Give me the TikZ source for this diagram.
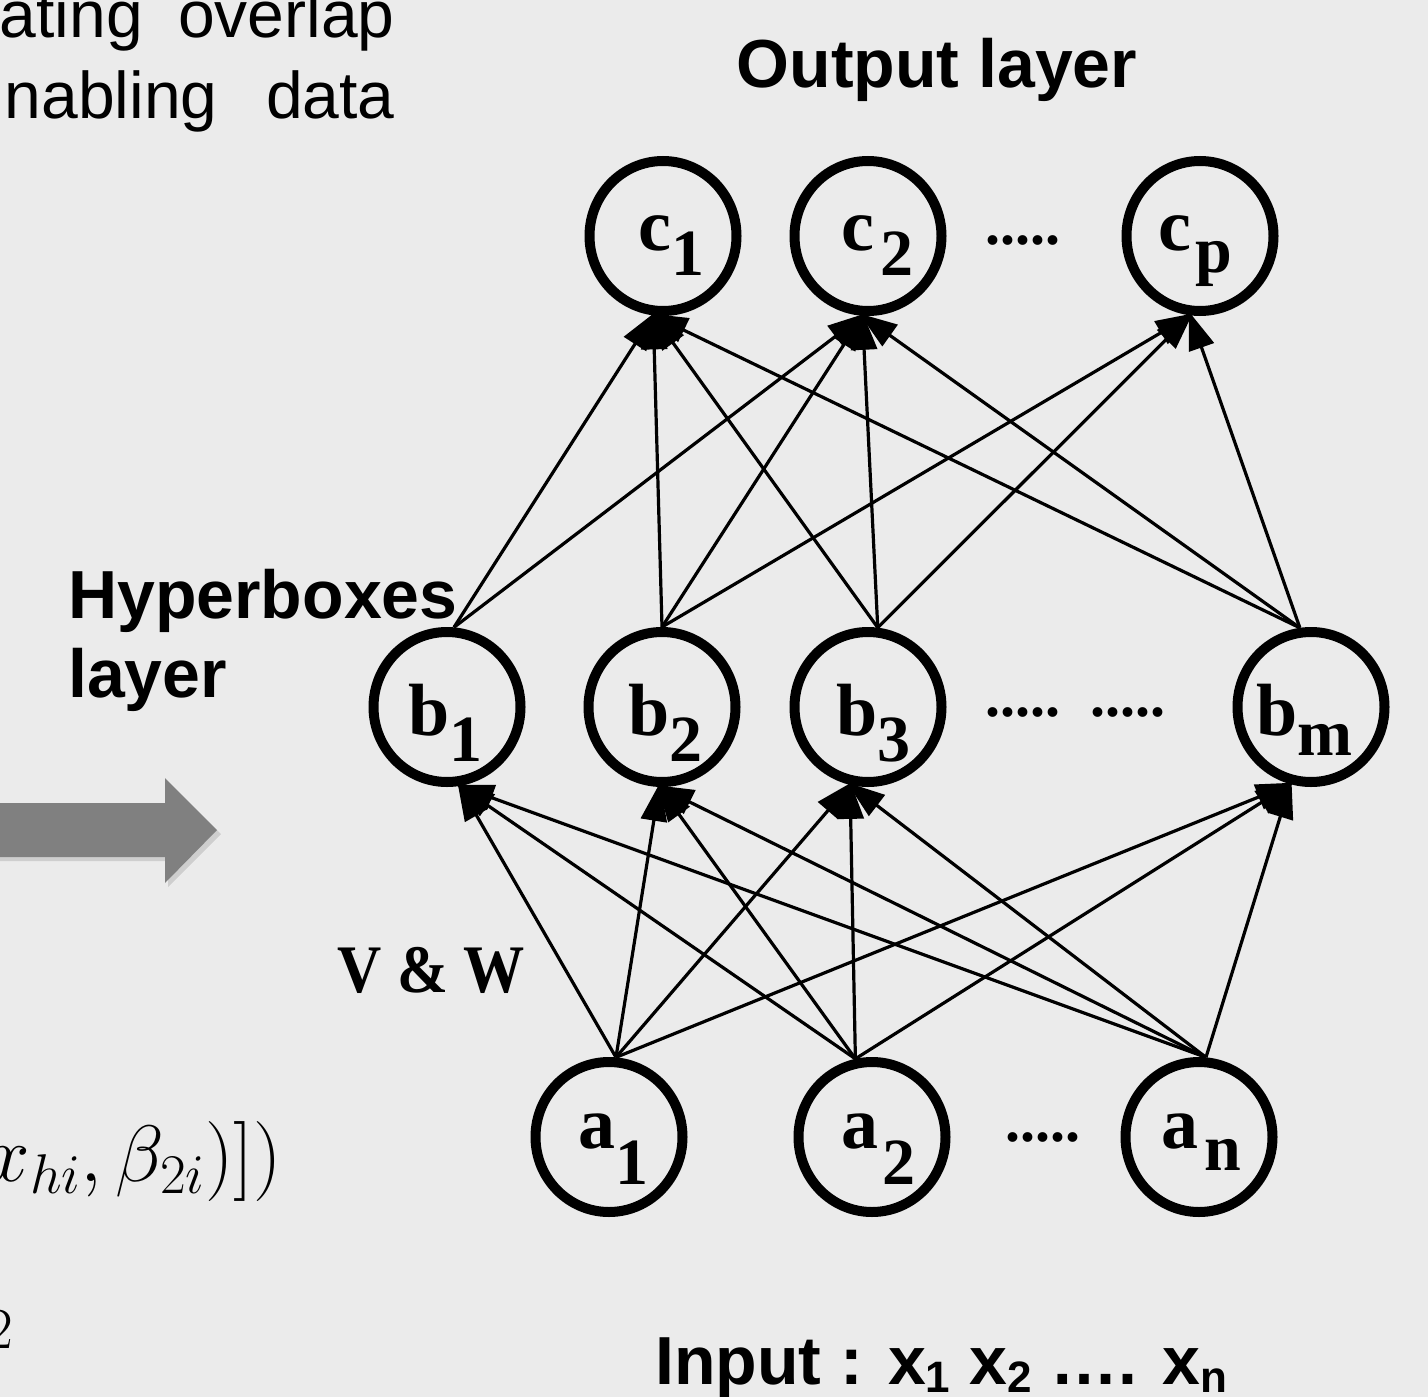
\RequirePackage{fix-cm}
\documentclass[tikz,border=0pt]{standalone}
\usepackage{fontspec}
\setmainfont{Liberation Serif}
\newfontfamily\arialf{Liberation Sans}
\usetikzlibrary{shapes.geometric,arrows.meta}
\definecolor{bgc}{RGB}{235,235,235}
\definecolor{arrowgray}{RGB}{128,128,128}
\newcommand\nsub[2]{\raisebox{-#1pt}{\fontsize{66}{66}\selectfont #2}}
\newcommand\ssub[1]{\raisebox{-8pt}{\fontsize{44}{44}\selectfont #1}}
\begin{document}
\begin{tikzpicture}[x=1pt,y=-1pt,
  neuron/.style={ellipse,draw=black,line width=10pt,minimum width=147pt,minimum height=150pt,inner sep=0pt},
  lbl/.style={anchor=base west,inner sep=0pt,font=\fontsize{74}{74}\selectfont\bfseries},
  dotsty/.style={anchor=base west,inner sep=0pt,font=\fontsize{60}{60}\selectfont\bfseries},
  sanstxt/.style={inner sep=0pt,font=\arialf\fontsize{66}{66}\selectfont},
  boldsans/.style={inner sep=0pt,font=\arialf\bfseries\fontsize{68}{68}\selectfont},
  conn/.style={line width=3.2pt,-{Triangle[length=38pt,width=26pt]},shorten >=-4pt}
]
\fill[bgc] (0,0) rectangle (1428,1397);
\useasboundingbox (0,0) rectangle (1428,1397);

% left slide fragments
\node[sanstxt,anchor=base east] (t1) at (395,38) {\hbox to 395pt{ating\hfil overlap}};
\node[sanstxt,anchor=base east] (t2) at (395,118) {\hbox to 390pt{nabling\hfil data}};
\fill[black,opacity=0.12] (-10,807) -- (168,807) -- (168,782) -- (221,834) -- (168,887) -- (168,861) -- (-10,861) -- cycle;
\fill[arrowgray] (-10,803) -- (165,803) -- (165,778) -- (217,830) -- (165,883) -- (165,857) -- (-10,857) -- cycle;
\node[anchor=base east,inner sep=0pt,font=\fontsize{80}{80}\selectfont] (frm) at (282,1181) {$x_{hi},\beta_{2i}\big)\big])$};
\node[anchor=base east,inner sep=0pt,font=\fontsize{58}{58}\selectfont] (two) at (13,1348) {$2$};

% headings
\node[boldsans,anchor=base] (out) at (937,88) {Output layer};
\node[boldsans,anchor=base west] (hyp1) at (68,618) {Hyperboxes};
\node[boldsans,anchor=base west] (hyp2) at (68,697) {layer};
\node[boldsans,anchor=base west] (inp) at (655,1384) {Input : x\ssub{1} x\ssub{2} …. x\ssub{n}};
\node[anchor=center,inner sep=0pt,font=\fontsize{68}{68}\selectfont\bfseries] (vw) at (431,970) {\scalebox{0.9}[1]{V \& W}};

% neurons
\node[neuron] (c1) at (663,236) {};
\node[neuron] (c2) at (868,236) {};
\node[neuron] (cp) at (1200,236) {};
\node[neuron] (b1) at (447,707) {};
\node[neuron] (b2) at (662,707) {};
\node[neuron] (b3) at (868,707) {};
\node[neuron] (bm) at (1311,707) {};
\node[neuron] (a1) at (609,1137) {};
\node[neuron] (a2) at (872,1137) {};
\node[neuron] (an) at (1199,1137) {};

% labels
\node[lbl] (lc1) at (638,250) {c\nsub{25}{1}};
\node[lbl] (lc2) at (841,250) {c\kern6pt\nsub{25}{2}};
\node[lbl] (lcp) at (1158,250) {c\kern4pt\nsub{22}{p}};
\node[lbl] (lb1) at (408,735) {b\nsub{26}{1}};
\node[lbl] (lb2) at (628,735) {b\nsub{26}{2}};
\node[lbl] (lb3) at (836,735) {b\nsub{26}{3}};
\node[lbl] (lbm) at (1256,735) {b\nsub{20}{m}};
\node[lbl] (la1) at (578,1148) {a\nsub{36}{1}};
\node[lbl] (la2) at (841,1148) {a\kern4pt\nsub{36}{2}};
\node[lbl] (lan) at (1161,1148) {a\kern6pt\nsub{22}{n}};

% dots
\node[dotsty] (dc) at (985,244) {.....};
\node[dotsty] (db1) at (985,716) {.....};
\node[dotsty] (db2) at (1090,716) {.....};
\node[dotsty] (da) at (1005,1141) {.....};

% hidden -> output
\draw[conn] (b1.85) -- (c1.-97);
\draw[conn] (b1.85) -- (c2.-94);
\draw[conn] (b2.north) -- (c1.-97);
\draw[conn] (b2.north) -- (c2.-94);
\draw[conn] (b2.north) -- (cp.-97);
\draw[conn] (b3.83) -- (c1.-97);
\draw[conn] (b3.83) -- (c2.-94);
\draw[conn] (b3.83) -- (cp.-97);
\draw[conn] (bm.98) -- (c1.-97);
\draw[conn] (bm.98) -- (c2.-94);
\draw[conn] (bm.98) -- (cp.-97);

% input -> hidden
\foreach \s/\a in {a1/85,a2/102,an/85}{
  \draw[conn] (\s.\a) -- (b1.-81);
  \draw[conn] (\s.\a) -- (b2.-92);
  \draw[conn] (\s.\a) -- (b3.-103);
  \draw[conn] (\s.\a) -- (bm.-105);
}
\end{tikzpicture}
\end{document}
